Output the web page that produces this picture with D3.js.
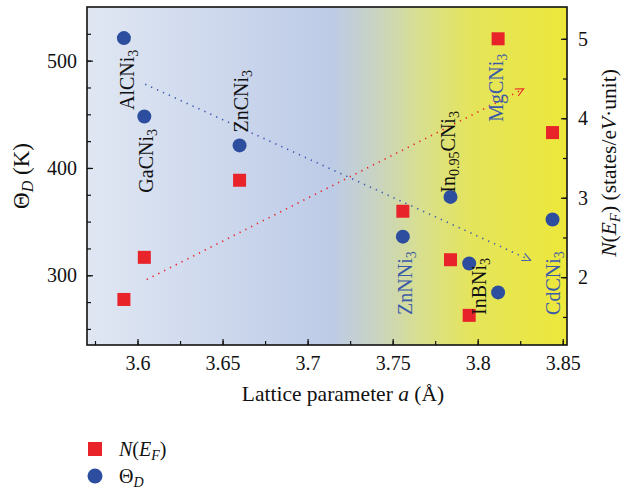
<!DOCTYPE html>
<html>
<head>
<meta charset="utf-8">
<script src="https://cdn.jsdelivr.net/npm/d3@7"></script>
<style>
  body { margin: 0; background: #fff; }
  svg text { font-family: "Liberation Serif", "DejaVu Serif", serif; fill: #111; }
</style>
</head>
<body>
<div id="chart"></div>
<script>
// Compounds, lattice parameter a (Å), Debye temperature (K), N(E_F) (states/eV unit)
const compounds = ['AlCNi3', 'GaCNi3', 'ZnCNi3', 'ZnNNi3', 'In0.95CNi3', 'InBNi3', 'MgCNi3', 'CdCNi3'];
const lattice = [3.592, 3.604, 3.660, 3.756, 3.784, 3.795, 3.812, 3.844];
const nLattice = [3.592, 3.604, 3.660, 3.756, 3.784, 3.795, 3.812, 3.844];
const debye = [521, 448, 421, 336, 373, 311, 284, 352];
const dos = [1.72, 2.25, 3.22, 2.83, 2.22, 1.52, 5.00, 3.82];

// label anchors in data units (a, Θ), text runs upwards
const labelA = [3.5979, 3.6091, 3.6650, 3.7615, 3.7868, 3.8050, 3.8150, 3.8485];
const labelTheta = [454, 377, 433, 263, 377, 263, 443, 263];
const blueLabels = ['ZnNNi3', 'MgCNi3', 'CdCNi3'];

// dotted trend arrows: [a0, v0, a1, v1]
const debyeTrend = [3.6045, 478, 3.831, 314];
const dosTrend = [3.6054, 1.97, 3.827, 4.37];

const xTicks = [3.6, 3.65, 3.7, 3.75, 3.8, 3.85];
const leftTicks = [300, 400, 500];
const rightTicks = [2, 3, 4, 5];

const width = 626;
const height = 489;
const padL = 87, padR = 567, padT = 7, padB = 345;
const serif = '"Liberation Serif", "DejaVu Serif", serif';

const red = '#e8232a';
const blue = '#2d4e9f';
const labelBlue = '#3b5aa8';

let svg = d3.select('#chart')
  .append('svg')
  .attr('width', width)
  .attr('height', height);

let x = d3.scaleLinear().domain([3.5703, 3.8525]).range([padL, padR]);
let yL = d3.scaleLinear().domain([235, 550]).range([padB, padT]);
let yR = d3.scaleLinear().domain([1.147, 5.40]).range([padB, padT]);

// Background gradient.
let grad = svg.append('defs').append('linearGradient')
  .attr('id', 'bg')
  .attr('x1', 0).attr('x2', 1).attr('y1', 0).attr('y2', 0);
[[0, '#e0e7f3'], [0.51, '#bdcbe7'], [0.6, '#c8d3c2'], [0.7, '#d9e08c'],
 [0.8, '#e4e45c'], [1, '#ede83a']].forEach(s => {
  grad.append('stop').attr('offset', s[0]).attr('stop-color', s[1]);
});

svg.append('rect')
  .attr('x', padL).attr('y', padT)
  .attr('width', padR - padL).attr('height', padB - padT)
  .attr('fill', 'url(#bg)');

// Axes.
let minorX = d3.range(3.575, 3.851, 0.025);
let minorL = d3.range(250, 526, 25);
let minorR = d3.range(1.5, 5.01, 0.5);

svg.append('g')
  .attr('transform', `translate(0,${padB})`)
  .call(d3.axisBottom(x).tickValues(minorX).tickSize(-4).tickFormat(''));
svg.append('g')
  .attr('transform', `translate(0,${padB})`)
  .call(d3.axisBottom(x).tickValues(xTicks).tickSize(-6).tickPadding(11)
    .tickFormat(d => String(+d.toFixed(2))));

svg.append('g')
  .attr('transform', `translate(${padL},0)`)
  .call(d3.axisLeft(yL).tickValues(minorL).tickSize(-4).tickFormat(''));
svg.append('g')
  .attr('transform', `translate(${padL},0)`)
  .call(d3.axisLeft(yL).tickValues(leftTicks).tickSize(-6).tickPadding(10)
    .tickFormat(d3.format('d')));

svg.append('g')
  .attr('transform', `translate(${padR},0)`)
  .call(d3.axisRight(yR).tickValues(minorR).tickSize(-4).tickFormat(''));
svg.append('g')
  .attr('transform', `translate(${padR},0)`)
  .call(d3.axisRight(yR).tickValues(rightTicks).tickSize(-6).tickPadding(11)
    .tickFormat(d3.format('d')));

svg.selectAll('.domain').remove();
svg.selectAll('.tick').select(function() { return this.parentNode; })
  .attr('font-family', serif).attr('font-size', 20);
svg.selectAll('.tick line').attr('stroke', '#111').attr('stroke-width', 1.2);
svg.selectAll('.tick text').attr('fill', '#111');

svg.append('rect')
  .attr('x', padL).attr('y', padT)
  .attr('width', padR - padL).attr('height', padB - padT)
  .attr('fill', 'none')
  .attr('stroke', '#111')
  .attr('stroke-width', 1.6);

// Trend arrows.
function trend(t, yScale, color) {
  let x0 = x(t[0]), y0 = yScale(t[1]), x1 = x(t[2]), y1 = yScale(t[3]);
  svg.append('line')
    .attr('x1', x0).attr('y1', y0).attr('x2', x1).attr('y2', y1)
    .attr('stroke', color)
    .attr('stroke-width', 1.6)
    .attr('stroke-dasharray', '1.3,5.2');
  let ang = Math.atan2(y1 - y0, x1 - x0);
  let len = 9, spread = 0.45;
  let p1 = [x1 - len * Math.cos(ang - spread), y1 - len * Math.sin(ang - spread)];
  let p2 = [x1 - len * Math.cos(ang + spread), y1 - len * Math.sin(ang + spread)];
  svg.append('path')
    .attr('d', `M${p1}L${x1},${y1}L${p2}`)
    .attr('fill', 'none')
    .attr('stroke', color)
    .attr('stroke-width', 1.1);
}
trend(debyeTrend, yL, '#3b58b0');
trend(dosTrend, yR, '#e8232a');

// Points.
svg.append('g')
  .selectAll('rect')
  .data(dos)
  .enter()
  .append('rect')
    .attr('x', (d, i) => x(nLattice[i]) - 6.5)
    .attr('y', d => yR(d) - 6.5)
    .attr('width', 13)
    .attr('height', 13)
    .attr('fill', red);

svg.append('g')
  .selectAll('circle')
  .data(debye)
  .enter()
  .append('circle')
    .attr('cx', (d, i) => x(lattice[i]))
    .attr('cy', d => yL(d))
    .attr('r', 7)
    .attr('fill', blue);

// Compound labels, chemical formulas with subscripts.
function formula(sel, name) {
  let parts = name.match(/[A-Za-z]+|[0-9.]+/g);
  parts.forEach(p => {
    let sub = /^[0-9.]+$/.test(p);
    sel.append('tspan')
      .attr('font-size', sub ? 14 : 20)
      .attr('baseline-shift', sub ? '-4' : null)
      .text(p);
  });
}

svg.append('g')
  .selectAll('text')
  .data(compounds)
  .enter()
  .append('text')
    .attr('transform', (d, i) => `translate(${x(labelA[i])},${yL(labelTheta[i])}) rotate(-90)`)
    .attr('font-size', 20)
    .style('fill', d => blueLabels.includes(d) ? labelBlue : '#111')
    .each(function(d) { formula(d3.select(this), d); });

// Axis titles.
let xt = svg.append('text')
  .attr('x', 343).attr('y', 401)
  .attr('text-anchor', 'middle')
  .attr('font-size', 21.5);
xt.append('tspan').text('Lattice parameter ');
xt.append('tspan').attr('font-style', 'italic').text('a');
xt.append('tspan').text(' (Å)');

let lt = svg.append('text')
  .attr('transform', 'translate(29,176) rotate(-90)')
  .attr('text-anchor', 'middle')
  .attr('font-size', 23);
lt.append('tspan').text('Θ');
lt.append('tspan').attr('font-style', 'italic').attr('font-size', 16).attr('baseline-shift', '-4').text('D');
lt.append('tspan').text(' (K)');

let rt = svg.append('text')
  .attr('transform', 'translate(616,163) rotate(-90)')
  .attr('text-anchor', 'middle')
  .attr('font-size', 21.5);
rt.append('tspan').attr('font-style', 'italic').text('N');
rt.append('tspan').text('(');
rt.append('tspan').attr('font-style', 'italic').text('E');
rt.append('tspan').attr('font-style', 'italic').attr('font-size', 15).attr('baseline-shift', '-4').text('F');
rt.append('tspan').text(')  (states/e');
rt.append('tspan').attr('font-style', 'italic').text('V');
rt.append('tspan').text('·unit)');

// Legend.
let legend = svg.append('g');
legend.append('rect')
  .attr('x', 88).attr('y', 442)
  .attr('width', 14).attr('height', 14)
  .attr('fill', red);
legend.append('circle')
  .attr('cx', 95).attr('cy', 476)
  .attr('r', 7.5)
  .attr('fill', blue);

let l1 = legend.append('text').attr('x', 119).attr('y', 456).attr('font-size', 20);
l1.append('tspan').attr('font-style', 'italic').text('N');
l1.append('tspan').text('(');
l1.append('tspan').attr('font-style', 'italic').text('E');
l1.append('tspan').attr('font-style', 'italic').attr('font-size', 14).attr('baseline-shift', '-4').text('F');
l1.append('tspan').text(')');

let l2 = legend.append('text').attr('x', 119).attr('y', 483).attr('font-size', 20);
l2.append('tspan').text('Θ');
l2.append('tspan').attr('font-style', 'italic').attr('font-size', 14).attr('baseline-shift', '-4').text('D');
</script>
</body>
</html>
